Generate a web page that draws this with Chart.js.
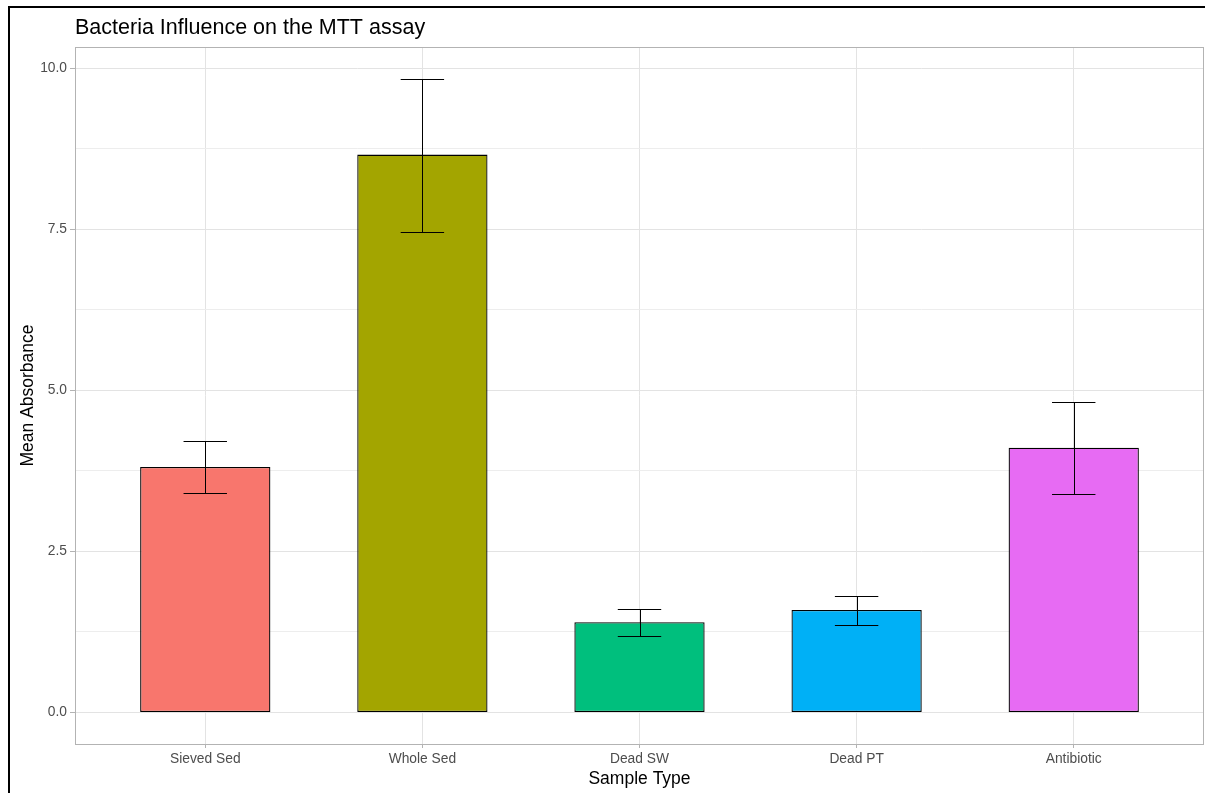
<!DOCTYPE html>
<html>
<head>
<meta charset="utf-8">
<title>Bacteria Influence on the MTT assay</title>
<script src="https://cdn.jsdelivr.net/npm/chart.js@4/dist/chart.umd.min.js"></script>
<style>
  html, body { margin: 0; padding: 0; background: #fff; }
  #wrap { position: relative; width: 1212px; height: 793px; }
</style>
</head>
<body>
<div id="wrap"><canvas id="mttChart" width="1212" height="793"></canvas></div>
<script>
(function () {
  'use strict';

  // sample groups and their mean absorbance with error bar limits
  const categories = ['Sieved Sed', 'Whole Sed', 'Dead SW', 'Dead PT', 'Antibiotic'];
  const meanAbs    = [3.81, 8.66, 1.40, 1.59, 4.11];
  const errLow     = [3.41, 7.46, 1.18, 1.35, 3.39];
  const errHigh    = [4.21, 9.84, 1.60, 1.80, 4.82];
  const fillColors = ['#F8766D', '#A3A500', '#00BF7D', '#00B0F6', '#E76BF3'];
  const yTicks     = [0, 1.25, 2.5, 3.75, 5, 6.25, 7.5, 8.75, 10];

  const FONT = "'Liberation Sans', Arial, sans-serif";
  const GRID = '#E3E3E3';
  const GRID_MINOR = '#EDEDED';
  const AXIS_GREY = '#B3B3B3';
  const TEXT_GREY = '#4D4D4D';
  const CAP = 0.2; // error bar cap width in category units

  const isMajor = v => Math.abs(v / 2.5 - Math.round(v / 2.5)) < 1e-6;

  // outer frame, title, panel border and error bars
  const decor = {
    id: 'decor',
    beforeDraw(ci) {
      const { ctx } = ci;
      ctx.save();
      ctx.strokeStyle = '#000';
      ctx.lineWidth = 2;
      ctx.beginPath();
      ctx.moveTo(9, 793);
      ctx.lineTo(9, 7);
      ctx.lineTo(1205, 7);
      ctx.stroke();
      ctx.restore();
    },
    afterDatasetsDraw(ci) {
      const { ctx, chartArea: a, scales: { x, y } } = ci;
      ctx.save();
      ctx.strokeStyle = '#000';
      ctx.lineWidth = 1;
      categories.forEach((_, i) => {
        const cx = Math.round(x.getPixelForValue(i)) + 0.5;
        const xl = x.getPixelForValue(i - CAP / 2);
        const xr = x.getPixelForValue(i + CAP / 2);
        const yl = Math.round(y.getPixelForValue(errLow[i])) + 0.5;
        const yh = Math.round(y.getPixelForValue(errHigh[i])) + 0.5;
        ctx.beginPath();
        ctx.moveTo(cx, yl); ctx.lineTo(cx, yh);
        ctx.moveTo(xl, yh); ctx.lineTo(xr, yh);
        ctx.moveTo(xl, yl); ctx.lineTo(xr, yl);
        ctx.stroke();
      });
      ctx.strokeStyle = AXIS_GREY;
      ctx.strokeRect(Math.round(a.left) + 0.5, Math.round(a.top) + 0.5,
                     Math.round(a.right - a.left) - 1, Math.round(a.bottom - a.top));
      ctx.fillStyle = '#000';
      ctx.font = '21.5px ' + FONT;
      ctx.textAlign = 'left';
      ctx.textBaseline = 'middle';
      ctx.fillText('Bacteria Influence on the MTT assay', a.left, 28);
      ctx.restore();
    }
  };

  new Chart(document.getElementById('mttChart').getContext('2d'), {
    type: 'bar',
    data: {
      datasets: [{
        data: categories.map((c, i) => ({ x: i, y: meanAbs[i] })),
        backgroundColor: fillColors,
        borderColor: '#000',
        borderWidth: 1.3,
        borderSkipped: false,
        barPercentage: 0.6,
        categoryPercentage: 1
      }]
    },
    options: {
      responsive: false,
      animation: false,
      layout: { padding: { top: 47, right: 8, left: 0, bottom: 0 } },
      plugins: { legend: { display: false }, tooltip: { enabled: false } },
      scales: {
        x: {
          type: 'linear',
          offset: false,
          min: -0.6,
          max: 4.6,
          afterBuildTicks(s) { s.ticks = categories.map((c, i) => ({ value: i })); },
          afterFit(s) { s.height = 49; },
          border: { display: false },
          grid: { offset: false, color: GRID, lineWidth: 1, tickLength: 4, tickColor: AXIS_GREY },
          ticks: {
            autoSkip: false, maxRotation: 0, padding: 3,
            color: TEXT_GREY, font: { family: FONT, size: 13.8 },
            callback: v => categories[v]
          },
          title: {
            display: true, text: 'Sample Type', color: '#000',
            font: { family: FONT, size: 17.5 }, padding: { top: 0, bottom: 3 }
          }
        },
        y: {
          min: -0.49,
          max: 10.33,
          afterBuildTicks(s) { s.ticks = yTicks.map(v => ({ value: v })); },
          afterFit(s) { s.width = 75; },
          border: { display: false },
          grid: {
            color: c => isMajor(c.tick.value) ? GRID : GRID_MINOR,
            tickColor: c => isMajor(c.tick.value) ? AXIS_GREY : 'rgba(0,0,0,0)',
            lineWidth: 1, tickLength: 5
          },
          ticks: {
            padding: 3, color: TEXT_GREY, font: { family: FONT, size: 13.8 },
            callback: v => isMajor(v) ? v.toFixed(1) : ''
          },
          title: {
            display: true, text: 'Mean Absorbance', color: '#000',
            font: { family: FONT, size: 17.5 }, padding: { top: 18, bottom: 0 }
          }
        }
      }
    },
    plugins: [decor]
  });
})();
</script>
</body>
</html>
